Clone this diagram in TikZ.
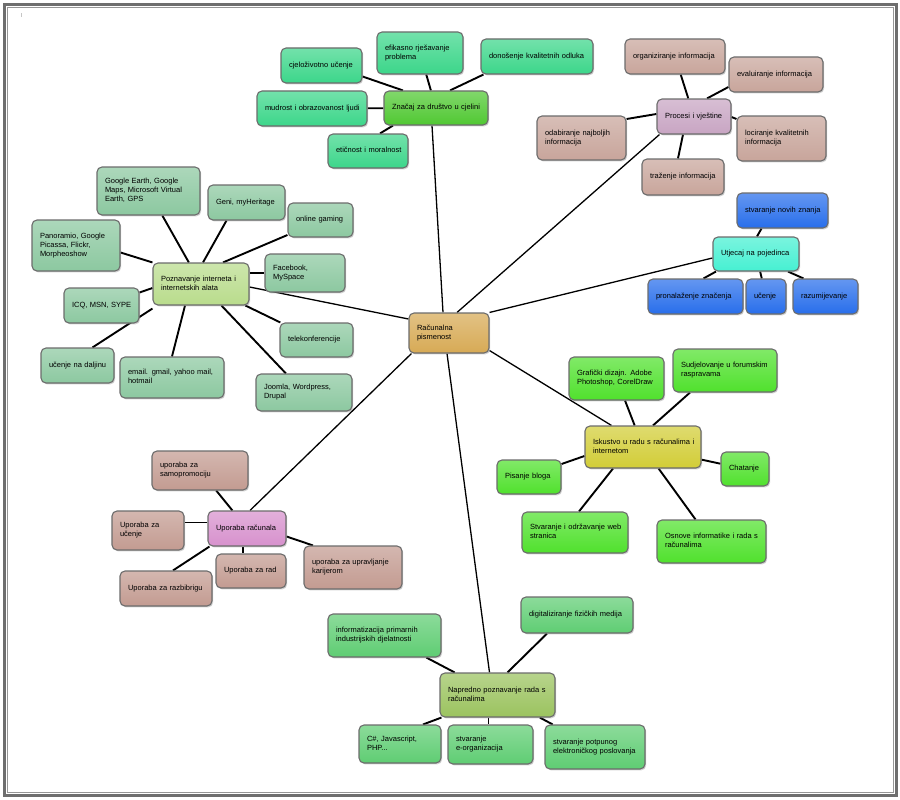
\documentclass[tikz,border=0pt]{standalone}
\usepackage{fontspec}
\setmainfont{Liberation Sans}
\usetikzlibrary{shadows,backgrounds}
\definecolor{cMint}{RGB}{60,214,138}
\definecolor{cZnacaj}{RGB}{80,200,50}
\definecolor{cBrown}{RGB}{200,165,155}
\definecolor{cProc}{RGB}{200,165,195}
\definecolor{cBlue}{RGB}{40,110,235}
\definecolor{cCyan}{RGB}{70,240,210}
\definecolor{cLeft}{RGB}{140,200,160}
\definecolor{cPozn}{RGB}{185,220,140}
\definecolor{cIsk}{RGB}{210,205,55}
\definecolor{cRight}{RGB}{80,225,45}
\definecolor{cUpo}{RGB}{215,145,205}
\definecolor{cUBrown}{RGB}{195,155,145}
\definecolor{cNapr}{RGB}{155,195,95}
\definecolor{cBot}{RGB}{95,205,115}
\definecolor{cCenter}{RGB}{215,170,85}
\definecolor{frameA}{RGB}{110,110,110}
\definecolor{frameB}{RGB}{150,150,150}
\tikzset{
  bx/.style={rounded corners=5pt, draw=gray!85!black, line width=1.1pt,
    inner xsep=8pt, inner ysep=1pt, align=left,
    font=\fontsize{7.5}{9}\selectfont,
    drop shadow={shadow xshift=1.2pt, shadow yshift=-1.4pt, opacity=0.35}},
  fc/.style={top color=#1!72!white, bottom color=#1},
  hublink/.style={line width=1.3pt, black},
  kidlink/.style={line width=1.9pt, black}
}
\newcommand{\bx}[7]{%
  \pgfmathsetmacro{\mycx}{(#2+#4)/2}%
  \pgfmathsetmacro{\mycy}{(#3+#5)/2}%
  \pgfmathsetmacro{\mybw}{#4-#2-16}%
  \pgfmathsetmacro{\mybh}{#5-#3}%
  \node[bx, fc=#6, text width=\mybw pt, minimum height=\mybh pt] (#1) at (\mycx,\mycy)
    {\begin{tabular}{@{}l@{}}#7\end{tabular}};}
\begin{document}
\begin{tikzpicture}[x=1pt,y=-1pt]
\useasboundingbox (0,0) rectangle (900,800);
\draw[frameA, line width=3pt] (4.5,4.5) rectangle (896,795);
\draw[frameB, line width=1pt] (7.5,7.5) rectangle (893,792);
\fill[gray!45] (21,13) rectangle (22.2,17);

% center
\bx{c}{409}{313}{489}{353}{cCenter}{Računalna\\pismenost}

% Znacaj cluster
\bx{znacaj}{384}{91}{488}{125}{cZnacaj}{Značaj za društvo u cjelini}
\bx{cjel}{281}{48}{362}{83}{cMint}{cjeloživotno učenje}
\bx{efik}{377}{32}{463}{74}{cMint}{efikasno rješavanje\\problema}
\bx{dono}{481}{39}{593}{74}{cMint}{donošenje kvalitetnih odluka}
\bx{mudr}{257}{91}{367}{126}{cMint}{mudrost i obrazovanost ljudi}
\bx{etic}{328}{134}{408}{168}{cMint}{etičnost i moralnost}

% Procesi cluster
\bx{proc}{657}{99}{731}{134}{cProc}{Procesi i vještine}
\bx{org}{625}{39}{725}{74}{cBrown}{organiziranje informacija}
\bx{eval}{729}{57}{823}{92}{cBrown}{evaluiranje informacija}
\bx{odab}{537}{116}{626}{160}{cBrown}{odabiranje najboljih\\informacija}
\bx{loc}{737}{116}{826}{161}{cBrown}{lociranje kvalitetnih\\informacija}
\bx{traz}{642}{159}{724}{195}{cBrown}{traženje informacija}

% Utjecaj cluster
\bx{utj}{713}{237}{799}{271}{cCyan}{Utjecaj na pojedinca}
\bx{stvn}{737}{193}{828}{228}{cBlue}{stvaranje novih znanja}
\bx{pron}{648}{279}{743}{314}{cBlue}{pronalaženje značenja}
\bx{uc}{746}{279}{786}{314}{cBlue}{učenje}
\bx{raz}{793}{279}{858}{314}{cBlue}{razumijevanje}

% Poznavanje cluster
\bx{pozn}{153}{263}{249}{305}{cPozn}{Poznavanje interneta i\\internetskih alata}
\bx{goog}{97}{167}{200}{215}{cLeft}{Google Earth, Google\\Maps, Microsoft Virtual\\Earth, GPS}
\bx{geni}{208}{185}{285}{220}{cLeft}{Geni, myHeritage}
\bx{onl}{288}{203}{353}{237}{cLeft}{online gaming}
\bx{pano}{32}{220}{120}{271}{cLeft}{Panoramio, Google\\Picassa, Flickr,\\Morpheoshow}
\bx{face}{265}{254}{345}{292}{cLeft}{Facebook,\\MySpace}
\bx{icq}{64}{288}{139}{323}{cLeft}{ICQ, MSN, SYPE}
\bx{tele}{280}{323}{353}{357}{cLeft}{telekonferencije}
\bx{ucd}{41}{348}{114}{383}{cLeft}{učenje na daljinu}
\bx{email}{120}{357}{224}{398}{cLeft}{email. gmail, yahoo mail,\\hotmail}
\bx{joom}{256}{374}{352}{411}{cLeft}{Joomla, Wordpress,\\Drupal}

% Iskustvo cluster
\bx{isk}{585}{426}{701}{468}{cIsk}{Iskustvo u radu s računalima i\\internetom}
\bx{graf}{569}{357}{664}{400}{cRight}{Grafički dizajn. Adobe\\Photoshop, CorelDraw}
\bx{sudj}{673}{349}{777}{392}{cRight}{Sudjelovanje u forumskim\\raspravama}
\bx{pis}{497}{460}{561}{494}{cRight}{Pisanje bloga}
\bx{chat}{721}{452}{769}{486}{cRight}{Chatanje}
\bx{stvw}{522}{512}{628}{553}{cRight}{Stvaranje i održavanje web\\stranica}
\bx{osn}{657}{520}{766}{563}{cRight}{Osnove informatike i rada s\\računalima}

% Uporaba cluster
\bx{upo}{208}{511}{286}{546}{cUpo}{Uporaba računala}
\bx{samo}{152}{451}{248}{490}{cUBrown}{uporaba za\\samopromociju}
\bx{uuc}{112}{511}{184}{550}{cUBrown}{Uporaba za\\učenje}
\bx{urad}{216}{554}{286}{588}{cUBrown}{Uporaba za rad}
\bx{ukar}{304}{546}{402}{589}{cUBrown}{uporaba za upravljanje\\karijerom}
\bx{urazb}{120}{571}{212}{606}{cUBrown}{Uporaba za razbibrigu}

% Napredno cluster
\bx{napr}{440}{673}{555}{717}{cNapr}{Napredno poznavanje rada s\\računalima}
\bx{infm}{328}{614}{441}{657}{cBot}{informatizacija primarnih\\industrijskih djelatnosti}
\bx{digi}{521}{597}{633}{633}{cBot}{digitaliziranje fizičkih medija}
\bx{csh}{359}{725}{441}{763}{cBot}{C\#, Javascript,\\PHP...}
\bx{stve}{448}{725}{533}{764}{cBot}{stvaranje\\e-organizacija}
\bx{stvp}{545}{725}{645}{769}{cBot}{stvaranje potpunog\\elektroničkog poslovanja}

\begin{scope}[on background layer]
  \fill[white] (0,0) rectangle (900,800);
  % hub links
  \draw[hublink] ([xshift=-6pt]c.north) -- ([xshift=-4pt]znacaj.south);
  \draw[hublink] ([xshift=8pt]c.north) -- ([xshift=3pt]proc.south west);
  \draw[hublink] (c.north east) -- ([yshift=-4pt]utj.west);
  \draw[hublink] ([yshift=3pt]c.south east) -- ([xshift=27pt]isk.north west);
  \draw[hublink] ([xshift=-2pt]c.south) -- ([xshift=-8pt]napr.north);
  \draw[hublink] ([xshift=3pt]c.south west) -- ([xshift=3pt]upo.north);
  \draw[hublink] ([yshift=14pt]c.west) -- ([yshift=-3pt]pozn.east);
  % Znacaj
  \draw[kidlink] ([xshift=-33pt]znacaj.north) -- ([yshift=-11pt]cjel.east);
  \draw[kidlink] (znacaj) -- (efik);
  \draw[kidlink] ([xshift=14pt]znacaj.north) -- ([xshift=3pt]dono.south west);
  \draw[kidlink] (znacaj) -- (mudr);
  \draw[kidlink] ([xshift=-43pt]znacaj.south) -- ([xshift=12pt]etic.north);
  % Procesi
  \draw[kidlink] (proc) -- (org);
  \draw[kidlink] ([xshift=13pt]proc.north) -- ([yshift=-12.5pt]eval.west);
  \draw[kidlink] ([yshift=2.5pt]proc.west) -- ([yshift=19pt]odab.east);
  \draw[kidlink] ([yshift=-0.5pt]proc.east) -- ([yshift=19.5pt]loc.west);
  \draw[kidlink] ([xshift=-11pt]proc.south) -- ([xshift=-5pt]traz.north);
  % Utjecaj
  \draw[kidlink] ([xshift=1pt]utj.north) -- ([xshift=-21pt]stvn.south);
  \draw[kidlink] ([xshift=-40pt]utj.south) -- ([xshift=8pt]pron.north);
  \draw[kidlink] (utj) -- (uc);
  \draw[kidlink] ([xshift=32pt]utj.south) -- ([xshift=-22pt]raz.north);
  % Poznavanje
  \draw[kidlink] (pozn) -- (goog);
  \draw[kidlink] ([xshift=2pt]pozn.north) -- ([xshift=-20pt]geni.south);
  \draw[kidlink] ([xshift=22pt]pozn.north) -- ([yshift=-15pt]onl.west);
  \draw[kidlink] (pozn.north west) -- ([yshift=-7pt]pano.east);
  \draw[kidlink] ([yshift=11pt]pozn.east) -- (face.west);
  \draw[kidlink] ([yshift=-4pt]pozn.west) -- ([yshift=13pt]icq.east);
  \draw[kidlink] (pozn) -- (tele);
  \draw[kidlink] ([yshift=-3pt]pozn.south west) -- ([xshift=15pt]ucd.north);
  \draw[kidlink] ([xshift=-16pt]pozn.south) -- (email.north);
  \draw[kidlink] (pozn) -- (joom);
  % Iskustvo
  \draw[kidlink] (isk) -- (graf);
  \draw[kidlink] ([xshift=10pt]isk.north) -- ([xshift=-35pt]sudj.south);
  \draw[kidlink] ([yshift=-9pt]isk.west) -- ([yshift=13pt]pis.east);
  \draw[kidlink] (isk) -- (chat);
  \draw[kidlink] ([xshift=-30pt]isk.south) -- ([xshift=4pt]stvw.north);
  \draw[kidlink] (isk) -- (osn);
  % Uporaba
  \draw[kidlink] (upo) -- (samo);
  \draw[kidlink] ([yshift=6pt]upo.west) -- ([yshift=8pt]uuc.east);
  \draw[kidlink] ([xshift=-4pt]upo.south) -- ([xshift=-8pt]urad.north);
  \draw[kidlink] ([yshift=-8pt]upo.east) -- ([xshift=-40pt]ukar.north);
  \draw[kidlink] ([xshift=2pt]upo.south west) -- ([xshift=7pt]urazb.north);
  % Napredno
  \draw[kidlink] (napr) -- (infm);
  \draw[kidlink] ([xshift=10pt]napr.north) -- ([xshift=-30pt]digi.south);
  \draw[kidlink] ([xshift=2pt]napr.south west) -- ([xshift=23pt]csh.north);
  \draw[kidlink] ([xshift=-9pt]napr.south) -- ([xshift=-2pt]stve.north);
  \draw[kidlink] (napr) -- (stvp);
\end{scope}
\end{tikzpicture}
\end{document}
